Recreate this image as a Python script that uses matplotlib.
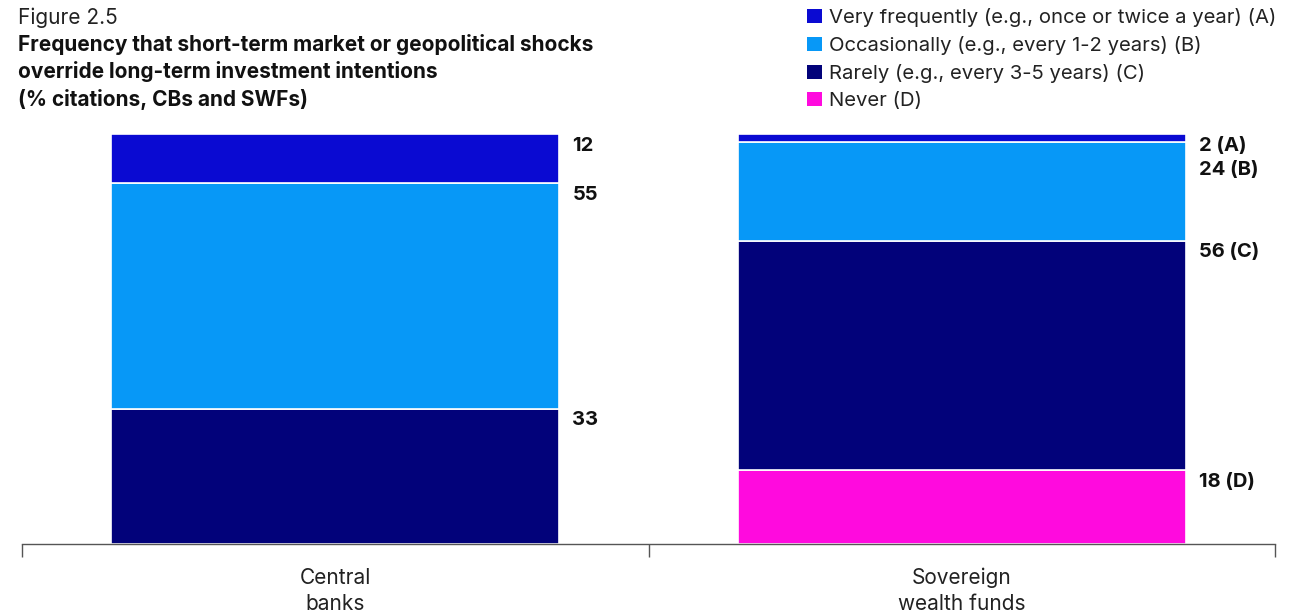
import numpy as np
import matplotlib.pyplot as plt
from matplotlib.patches import Patch

plt.rcParams['font.family'] = ['Inter', 'DejaVu Sans']

# Survey shares (% citations), stacked top to bottom: A, B, C, D
groups = ["Central\nbanks", "Sovereign\nwealth funds"]
freq_labels = [
    "Very frequently (e.g., once or twice a year) (A)",
    "Occasionally (e.g., every 1-2 years) (B)",
    "Rarely (e.g., every 3-5 years) (C)",
    "Never (D)",
]
letters = ["A", "B", "C", "D"]
very_freq = [12, 2]
occasionally = [55, 24]
rarely = [33, 56]
never = [0, 18]

colors = ["#0A0AD2", "#0798F7", "#02027A", "#FF0ADE"]

series = [very_freq, occasionally, rarely, never]

fig = plt.figure(figsize=(12.93, 6.12), dpi=100)
ax = fig.add_axes([22 / 1293, 68 / 612, 1253 / 1293, 410 / 612])

xpos = np.array([0.5, 1.5])
width = 0.715

# stack from the bottom up: D, C, B, A
bottoms = np.zeros(len(groups))
seg_tops = [[None] * 4 for _ in groups]
for k in [3, 2, 1, 0]:
    vals = np.array(series[k], dtype=float)
    ax.bar(xpos, vals, width, bottom=bottoms, color=colors[k],
           edgecolor="white", linewidth=1.2)
    for i in range(len(groups)):
        if vals[i] > 0:
            seg_tops[i][k] = bottoms[i] + vals[i]
    bottoms += vals

# value labels at the top of each segment, pushed down if they collide
min_gap = 5.9
for i in range(len(groups)):
    prev = None
    for k in range(4):
        top = seg_tops[i][k]
        if top is None:
            continue
        y = top if prev is None else min(top, prev - min_gap)
        prev = y
        txt = f"{series[k][i]}" if i == 0 else f"{series[k][i]} ({letters[k]})"
        ax.annotate(txt, xy=(xpos[i] + width / 2, y), xytext=(9.5, -2),
                    textcoords="offset points", ha="left", va="top",
                    fontsize=14.5, fontweight="bold", color="#111111")

ax.set_xlim(0, 2)
ax.set_ylim(0, 100)
ax.set_xticks([0, 1, 2])
ax.set_xticklabels([])
ax.set_xticks(xpos, minor=True)
ax.set_xticklabels(groups, minor=True, fontsize=15, color="#222222",
                   linespacing=1.38)
ax.tick_params(axis="x", which="major", length=9, width=1, color="#555555",
               direction="out")
ax.tick_params(axis="x", which="minor", length=0, pad=17)
ax.set_yticks([])
for side in ["top", "right", "left"]:
    ax.spines[side].set_visible(False)
ax.spines["bottom"].set_color("#555555")
ax.spines["bottom"].set_linewidth(1)

fig.text(18 / 1293, 1 - 7 / 612, "Figure 2.5", fontsize=15,
         color="#222222", va="top", ha="left")
fig.text(18 / 1293, 1 - 34 / 612,
         "Frequency that short-term market or geopolitical shocks\n"
         "override long-term investment intentions\n"
         "(% citations, CBs and SWFs)",
         fontsize=15, fontweight="bold", color="#111111", va="top",
         ha="left", linespacing=1.38)

handles = [Patch(facecolor=c, edgecolor="none") for c in colors]
fig.legend(handles, freq_labels, loc="upper left",
           bbox_to_anchor=(799 / 1293, 1 + 0 / 612), frameon=False,
           fontsize=14.6, handlelength=0.72, handleheight=0.72,
           handletextpad=0.38, labelspacing=0.44, borderaxespad=0,
           labelcolor="#222222")

fig.savefig("out.png", dpi=100)
